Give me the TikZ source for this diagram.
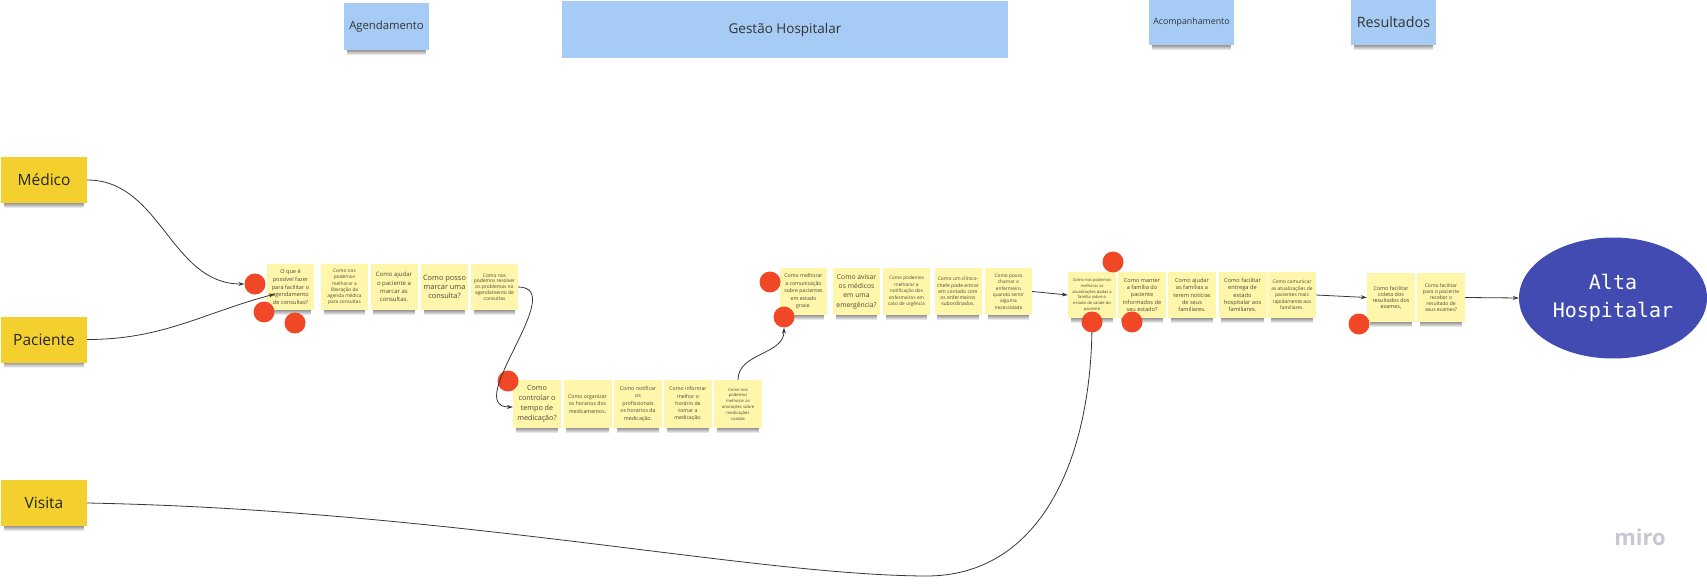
\documentclass[tikz,border=0pt]{standalone}
\usepackage{fontspec}
\setmainfont{Open Sans}
\newfontfamily\altamono{DejaVu Sans Mono}
\usetikzlibrary{arrows.meta,fadings,shapes.geometric}
\definecolor{stickyY}{RGB}{254,247,171}
\definecolor{actorY}{RGB}{243,208,46}
\definecolor{hdrBlue}{RGB}{166,204,245}
\definecolor{dotRed}{RGB}{240,71,38}
\definecolor{altaBlue}{RGB}{65,75,178}
\definecolor{ntext}{RGB}{75,72,55}
\definecolor{lineC}{RGB}{55,55,55}
\definecolor{miroG}{RGB}{200,200,210}
\newcommand\nfs[2]{\fontsize{#1}{#2}\selectfont}
\newcommand\shd[1]{\fill[black,opacity=.4,path fading=south] ([xshift=3pt]#1.south west) rectangle ([xshift=-3pt,yshift=-5pt]#1.south east);}
\begin{document}
\begin{tikzpicture}[x=1pt,y=-1pt,
  sticky/.style={fill=stickyY,minimum width=47,minimum height=46,inner sep=0.5,align=center,text=ntext},
  actor/.style={fill=actorY,minimum width=86,minimum height=46,inner sep=0,font=\nfs{15.5}{18},text=black!85},
  hdr/.style={fill=hdrBlue,inner sep=0,text=black!80},
  vote/.style={circle,fill=dotRed,minimum size=21,inner sep=0},
  conn/.style={draw=lineC,line width=0.8pt,-{Stealth[length=6pt,width=4pt]}},
  alta/.style={ellipse,fill=altaBlue,minimum width=188,minimum height=121,inner sep=0,text=white,align=center,font=\altamono\nfs{20}{28}}]
\fill[white] (0,0) rectangle (1707,585);
\useasboundingbox (0,0) rectangle (1707,585);

% headers
\node[hdr,minimum width=85,minimum height=47,font=\nfs{11.3}{13}] (hA) at (386.5,26.5) {Agendamento};
\node[hdr,minimum width=446,minimum height=57,font=\nfs{13.5}{16}] (hG) at (785,29.5) {Gestão Hospitalar};
\node[hdr,minimum width=85,minimum height=45,font=\nfs{8.8}{11}] (hC) at (1191.5,22.5) {Acompanhamento};
\node[hdr,minimum width=85,minimum height=45,font=\nfs{14.3}{17}] (hR) at (1393.5,22.5) {Resultados};
\shd{hA}\shd{hC}\shd{hR}

% actors
\node[actor] (med) at (44,180) {Médico};
\node[actor] (pac) at (44,339.5) {Paciente};
\node[actor] (vis) at (44,503) {Visita};
\shd{med}\shd{pac}\shd{vis}

% group 1
\node[sticky,font=\nfs{5.6}{7.6}] (g1a) at (290.5,287) {O que é\\possível fazer\\para facilitar o\\agendamento\\de consultas?};
\node[sticky,font=\nfs{4.8}{6.3}] (g1b) at (344.5,287) {Como nos\\podemos\\melhorar a\\liberação da\\agenda médica\\para consultas};
\node[sticky,font=\nfs{6}{8.3}] (g1c) at (394,287) {Como ajudar\\o paciente a\\marcar as\\consultas.};
\node[sticky,font=\nfs{7.4}{9}] (g1d) at (444.5,287) {Como posso\\marcar uma\\consulta?};
\node[sticky,font=\nfs{4.9}{5.8}] (g1e) at (494.5,287) {Como nos\\podemos resolver\\os problemas no\\agendamento de\\consultas};

% group 2
\node[sticky,minimum width=48,minimum height=48,font=\nfs{7.2}{10}] (g2a) at (537,404) {Como\\controlar o\\tempo de\\medicação?};
\node[sticky,minimum width=48,minimum height=48,font=\nfs{5.2}{7.7}] (g2b) at (587.5,404) {Como organizar\\os horarios dos\\medicamentos.};
\node[sticky,minimum width=48,minimum height=48,font=\nfs{5.3}{7.5}] (g2c) at (638,404) {Como notificar\\os\\profissionais\\os horarios da\\medicação.};
\node[sticky,minimum width=48,minimum height=48,font=\nfs{5.2}{7.3}] (g2d) at (688,404) {Como informar\\melhor o\\horário de\\tomar a\\medicação.};
\node[sticky,minimum width=48,minimum height=48,font=\nfs{4.2}{5.8}] (g2e) at (738,404) {Como nos\\podemos\\melhorar as\\anotações sobre\\medicações\\usadas};

% group 3
\node[sticky,minimum height=47,font=\nfs{5.2}{7.5}] (g3a) at (803.5,291.5) {Como melhorar\\a comunicação\\sobre pacientes\\em estado\\grave.};
\node[sticky,minimum height=47,font=\nfs{6.8}{9.3}] (g3b) at (856.5,291.5) {Como avisar\\os médicos\\em uma\\emergência?};
\node[sticky,minimum height=47,font=\nfs{4.7}{6.5}] (g3c) at (906.5,291.5) {Como podemos\\melhorar a\\notificação dos\\enfermeiros em\\caso de urgência};
\node[sticky,minimum height=47,font=\nfs{5}{6.3}] (g3d) at (958,291.5) {Como um clínico-\\chefe pode entrar\\em contado com\\os enfermeiros\\subordinados.};
\node[sticky,minimum height=47,font=\nfs{4.8}{6.4}] (g3e) at (1008.5,291.5) {Como posso\\chamar o\\enfermeiro\\quando sentir\\alguma\\necessidade};

% group 4
\node[sticky,minimum width=48,font=\nfs{4.1}{5.7}] (g4a) at (1092,295) {Como nos podemos\\melhorar as\\atualizações dadas a\\família sobre o\\estado de saúde do\\paciente};
\node[sticky,minimum width=48,font=\nfs{5.6}{7.1}] (g4b) at (1142,295) {Como manter\\a família do\\paciente\\informados de\\seu estado?};
\node[sticky,minimum width=48,font=\nfs{5.6}{7.2}] (g4c) at (1192,295) {Como ajudar\\as famílias a\\terem notícias\\de seus\\familiares.};
\node[sticky,minimum width=48,font=\nfs{5.7}{7.2}] (g4d) at (1242.5,295) {Como facilitar\\entrega de\\estado\\hospitalar aos\\familiares.};
\node[sticky,minimum width=48,font=\nfs{4.9}{6.6}] (g4e) at (1292,295) {Como comunicar\\as atualizações de\\pacientes mais\\rapidamente aos\\familiares.};

% group 5
\node[sticky,minimum width=48,minimum height=49,font=\nfs{5.4}{6}] (g5a) at (1391,297.5) {Como facilitar\\coleta dos\\resultados dos\\exames,};
\node[sticky,minimum width=48,minimum height=49,font=\nfs{5}{5.9}] (g5b) at (1441,297.5) {Como facilitar\\para o paciente\\receber o\\resultado de\\seus exames?};

\foreach \n in {g1a,g1b,g1c,g1d,g1e,g2a,g2b,g2c,g2d,g2e,g3a,g3b,g3c,g3d,g3e,g4a,g4b,g4c,g4d,g4e,g5a,g5b}{\shd{\n}}

% final
\node[alta] (alta) at (1613,298) {Alta\\Hospitalar};
\node[text=miroG,font=\bfseries\nfs{22}{24},anchor=base] (logo) at (1640,545) {miro};

% vote dots
\node[vote] (d1) at (255,284) {};
\node[vote] (d2) at (264,312) {};
\node[vote] (d3) at (295,323) {};
\node[vote] (d4) at (508,381) {};
\node[vote] (d5) at (770,282) {};
\node[vote] (d6) at (784,317) {};
\node[vote] (d7) at (1113,262) {};
\node[vote] (d9) at (1132,322) {};
\node[vote] (d10) at (1359,324) {};

% connectors
\coordinate (vlow) at (925,576);
\draw[conn] (med.east) to[out=0,in=180] (d1.west);
\draw[conn] (pac.east) to[out=0,in=195] ([shift={(8,7)}]g1a.west);
\draw[conn] (g1e.east) to[out=0,in=180,looseness=1.1] ([yshift=-3pt]g2a.west);
\draw[conn] (g2e.north) to[out=90,in=-90] (d6.south);
\draw[conn] (g3e.east) -- (g4a.west);
\draw[conn] (g4e.east) -- (g5a.west);
\draw[conn] (g5b.east) -- (alta.west);
\draw[conn] (vis.east) .. controls (450,510) and (750,575) .. (vlow) .. controls (1040,577) and (1092,460) .. (g4a.south);
\node[vote] (d8) at (1092,322) {};
\end{tikzpicture}
\end{document}
